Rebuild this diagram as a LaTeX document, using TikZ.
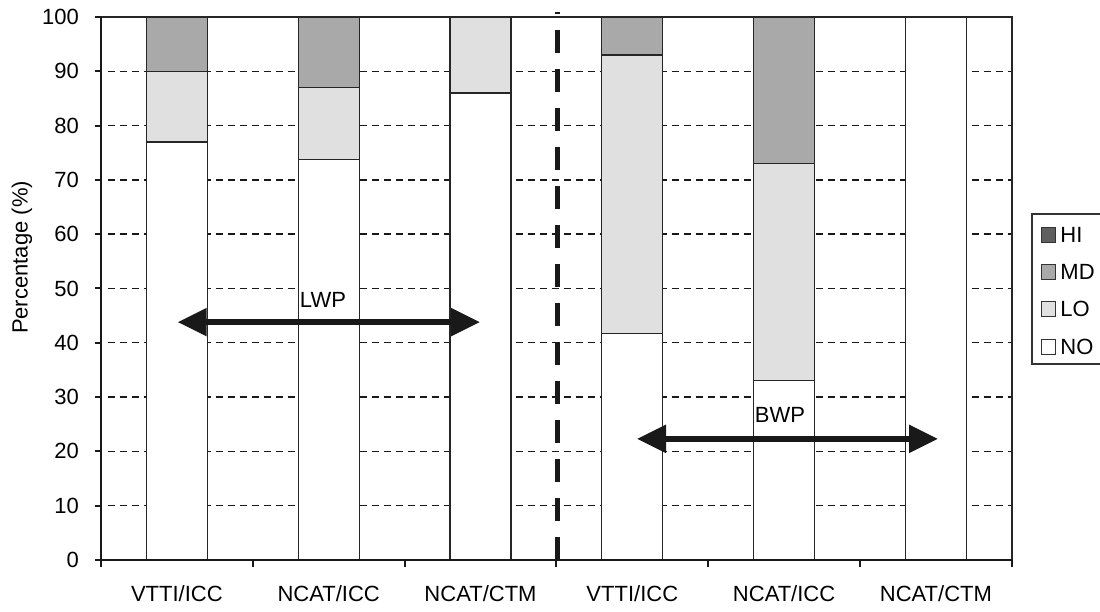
\documentclass[tikz,border=0pt]{standalone}
\usepackage{fontspec}
\setmainfont{Liberation Sans}
\usepackage{tikz}
\usetikzlibrary{positioning, arrows.meta}

\definecolor{hifill}{HTML}{5F5F5F}
\definecolor{mdfill}{HTML}{A9A9A9}
\definecolor{lofill}{HTML}{E0E0E0}

\begin{document}
\begin{tikzpicture}[x=1pt,y=1pt,font=\fontsize{22}{25}\selectfont,
                    bar/.style={draw=black!85,line width=1.3pt},
                    grid line/.style={black!90,line width=1.4pt,dash pattern=on 7pt off 5pt},
                    axis line/.style={black!90,line width=2.4pt},
                    wp arrow/.style={{Triangle[length=29pt,width=27pt]}-{Triangle[length=29pt,width=27pt]},line width=5.5pt,black!90},
                    key box/.style={draw=black!80,line width=1pt,minimum size=14.5pt,inner sep=0pt}]
        \useasboundingbox (0,0) rectangle (1100,612);

        \begin{scope}[shift={(101,52)},y=5.43pt]
            % dashed grid
            \foreach \v in {10,20,...,90}
                \draw[grid line] (7,\v) -- (911,\v);

            % stacked bars: NO / LO / MD
            \foreach \k/\no/\lo/\md in {0/77/90/100, 1/73.7/87/100, 2/86/100/100,
                                        3/41.7/93/100, 4/33.1/73/100, 5/100/100/100} {
                \pgfmathsetmacro\cx{75.9+151.8*\k}
                \draw[bar,fill=white] (\cx-30.5,0) rectangle (\cx+30.5,\no);
                \draw[bar,fill=lofill] (\cx-30.5,\no) rectangle (\cx+30.5,\lo);
                \draw[bar,fill=mdfill] (\cx-30.5,\lo) rectangle (\cx+30.5,\md);
            }

            % frame and axes
            \draw[line width=2pt,black!85] (0,100) -- (911,100) -- (911,0);
            \draw[axis line] (0,100) -- (0,0) -- (911,0);
            \foreach \v in {0,10,...,100} {
                \draw[axis line,line width=2pt] (0,\v) -- ++(-6pt,0);
                \node[anchor=east,inner sep=0pt] (y\v) at ([xshift=-22pt]0,\v) {\v};
            }
            \foreach \k in {0,...,6}
                \draw[axis line,line width=2pt] (151.8*\k,0) -- ++(0,-7pt);
            \foreach \k/\name in {0/{VTTI/ICC}, 1/{NCAT/ICC}, 2/{NCAT/CTM},
                                  3/{VTTI/ICC}, 4/{NCAT/ICC}, 5/{NCAT/CTM}}
                \node[anchor=base,inner sep=0pt] (x\k) at ([yshift=-42pt]75.9+151.8*\k,0) {\name};

            % split between the two groups
            \coordinate (div bot) at (456,0);
            \coordinate (div top) at ([yshift=5pt]456,100);
            \draw[black!90,line width=5pt,dash pattern=on 23pt off 16pt] (div bot) -- (div top);

            % group arrows
            \coordinate (lwp l) at (76.7,43.8);
            \coordinate (lwp r) at (379,43.8);
            \coordinate (bwp l) at (536,22.3);
            \coordinate (bwp r) at (837,22.3);
            \draw[wp arrow] (lwp l) -- (lwp r);
            \draw[wp arrow] (bwp l) -- (bwp r);
            \node (lwp) at (222,47.9) {LWP};
            \node (bwp) at (679,26.7) {BWP};
        \end{scope}

        \node[rotate=90] (ylab) at (22,354.5) {Percentage (\%)};

        % legend
        \draw[black!80,line width=1.3pt] (1104,398) -- (1032,398) -- (1032,248) -- (1104,248);
        \node[key box,fill=hifill] (hi) at (1048.5,377) {};
        \node[key box,fill=mdfill] (md) at (1048.5,340) {};
        \node[key box,fill=lofill] (lo) at (1048.5,303) {};
        \node[key box,fill=white]  (no) at (1048.5,265) {};
        \node[right=4pt of hi,inner sep=0pt] {HI};
        \node[right=4pt of md,inner sep=0pt] {MD};
        \node[right=4pt of lo,inner sep=0pt] {LO};
        \node[right=4pt of no,inner sep=0pt] {NO};
\end{tikzpicture}
\end{document}
